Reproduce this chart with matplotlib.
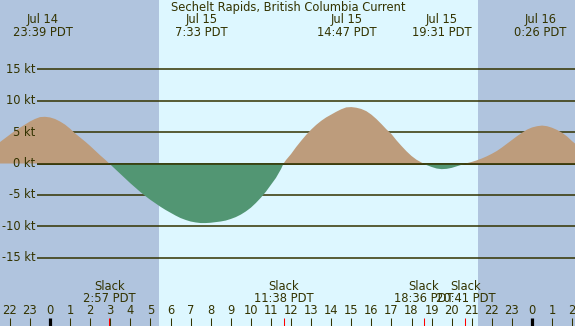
import numpy as np
import matplotlib
matplotlib.use("Agg")
import matplotlib.pyplot as plt

# hours relative to Jul 15 00:00 PDT, current in knots
hours = [-2.5, -2.25, -2.0, -1.75, -1.5, -1.25, -1.0, -0.75, -0.5, -0.25,
         0.0, 0.25, 0.5, 0.75, 1.0, 1.25, 1.5, 1.75, 2.0, 2.25, 2.5, 2.75, 2.95,
         3.0, 3.25, 3.5, 3.75, 4.0, 4.25, 4.5, 4.75, 5.0, 5.25, 5.5, 5.75,
         6.0, 6.25, 6.5, 6.75, 7.0, 7.25, 7.5, 7.75, 8.0, 8.25, 8.5, 8.75,
         9.0, 9.25, 9.5, 9.75, 10.0, 10.25, 10.5, 10.75, 11.0, 11.25, 11.5, 11.63,
         11.75, 12.0, 12.25, 12.5, 12.75, 13.0, 13.25, 13.5, 13.75, 14.0, 14.25,
         14.5, 14.75, 15.0, 15.25, 15.5, 15.75, 16.0, 16.25, 16.5, 16.75, 17.0,
         17.25, 17.5, 17.75, 18.0, 18.25, 18.5, 18.6,
         18.75, 19.0, 19.25, 19.5, 19.75, 20.0, 20.25, 20.5, 20.68,
         20.75, 21.0, 21.25, 21.5, 21.75, 22.0, 22.25, 22.5, 22.75, 23.0, 23.25,
         23.5, 23.75, 24.0, 24.25, 24.5, 24.75, 25.0, 25.25, 25.5, 25.75, 26.0,
         26.25]
speed = [3.4, 4.0, 4.6, 5.2, 5.7, 6.2, 6.7, 7.1, 7.4, 7.45,
         7.35, 7.1, 6.7, 6.2, 5.55, 4.8, 4.15, 3.5, 2.8, 2.05, 1.3, 0.6, 0.0,
         -0.15, -0.9, -1.65, -2.4, -3.15, -3.85, -4.55, -5.2, -5.8, -6.35, -6.9, -7.4,
         -7.85, -8.3, -8.7, -9.0, -9.25, -9.4, -9.5, -9.5, -9.45, -9.35, -9.25, -9.1,
         -8.85, -8.55, -8.15, -7.65, -7.05, -6.3, -5.45, -4.5, -3.4, -2.3, -0.9, 0.0,
         0.55, 1.5, 2.6, 3.6, 4.55, 5.4, 6.15, 6.8, 7.35, 7.8, 8.25,
         8.65, 8.95, 9.0, 8.9, 8.7, 8.35, 7.8, 7.1, 6.3, 5.45, 4.7,
         3.7, 2.8, 1.95, 1.2, 0.6, 0.15, 0.0,
         -0.25, -0.55, -0.8, -0.9, -0.85, -0.7, -0.45, -0.2, 0.0,
         0.05, 0.25, 0.5, 0.8, 1.15, 1.55, 2.0, 2.55, 3.15, 3.75, 4.35,
         4.9, 5.4, 5.75, 5.95, 6.05, 5.95, 5.7, 5.35, 4.9, 4.3, 3.55,
         2.9]

# max / min current events
event_hours = [-0.35, 7.55, 14.78, 19.52, 24.43]
event_days = ["Jul 14", "Jul 15", "Jul 15", "Jul 15", "Jul 16"]
event_times = ["23:39 PDT", "7:33 PDT", "14:47 PDT", "19:31 PDT", "0:26 PDT"]

# slack water
slack_hours = [2.95, 11.63, 18.6, 20.68, 27.4]
slack_times = ["2:57 PDT", "11:38 PDT", "18:36 PDT", "20:41 PDT", "3:18 PDT"]

sunrise, sunset = 5.43, 21.31
levels = [15, 10, 5, 0, -5, -10, -15]
level_labels = ["15 kt", "10 kt", "5 kt", "0 kt", "-5 kt", "-10 kt", "-15 kt"]

night = "#b0c4de"
day = "#ddf7ff"
flood = "#bd9c7c"
ebb = "#529673"
ink = "#333300"

H = 326.0
def fy(px):
    return 1 - px / H

plt.rcParams['font.family'] = ['DejaVu Sans']
fs = 8.3

fig = plt.figure(figsize=(5.75, 3.26), dpi=100)
ax = fig.add_axes([0, 0, 1, 1])
x0, x1 = -2.49, 26.14
ax.set_xlim(x0, x1)
ax.set_ylim(-25.92, 26.08)
ax.axis("off")

ax.axvspan(x0 - 1, sunrise, color=night, lw=0, zorder=0)
ax.axvspan(sunrise, sunset, color=day, lw=0, zorder=0)
ax.axvspan(sunset, x1 + 1, color=night, lw=0, zorder=0)

ax.hlines(levels, -0.65, x1 + 1, color=ink, lw=1.1, zorder=1)

t = np.array(hours)
v = np.array(speed)
ax.fill_between(t, v, 0, where=v >= 0, interpolate=True, color=flood, lw=0, zorder=2)
ax.fill_between(t, v, 0, where=v <= 0, interpolate=True, color=ebb, lw=0, zorder=2)
ax.hlines(0, -0.65, x1 + 1, color=ink, lw=1.1, zorder=3)

for lv, lab in zip(levels, level_labels):
    ax.text(-0.74, lv, lab, ha="right", va="center", fontsize=fs, color=ink)

tr = ax.get_xaxis_transform()
ax.text((x0 + x1) / 2 + 0.05, fy(7), "Sechelt Rapids, British Columbia Current",
        transform=tr, ha="center", va="center", fontsize=fs, color=ink)
for h, d, tm in zip(event_hours, event_days, event_times):
    ax.text(h, fy(19), d, transform=tr, ha="center", va="center", fontsize=fs, color=ink)
    ax.text(h, fy(32), tm, transform=tr, ha="center", va="center", fontsize=fs, color=ink)

for h, tm in zip(slack_hours, slack_times):
    ax.text(h, fy(287), "Slack", transform=tr, ha="center", va="center", fontsize=fs, color=ink)
    ax.text(h, fy(299), tm, transform=tr, ha="center", va="center", fontsize=fs, color=ink)

# hour ticks along the bottom
for h in range(-2, 27):
    lab = str(h % 24)
    ax.text(h, fy(311), lab, transform=tr, ha="center", va="center", fontsize=fs, color=ink)
    midnight = h % 24 == 0
    ax.vlines(h, 0, fy(318), transform=tr, color="black" if midnight else ink,
              lw=2.3 if midnight else 0.75)
for h in slack_hours:
    ax.vlines(h, 0, fy(318), transform=tr, color="red", lw=0.75)

fig.savefig("out.png", dpi=100)
